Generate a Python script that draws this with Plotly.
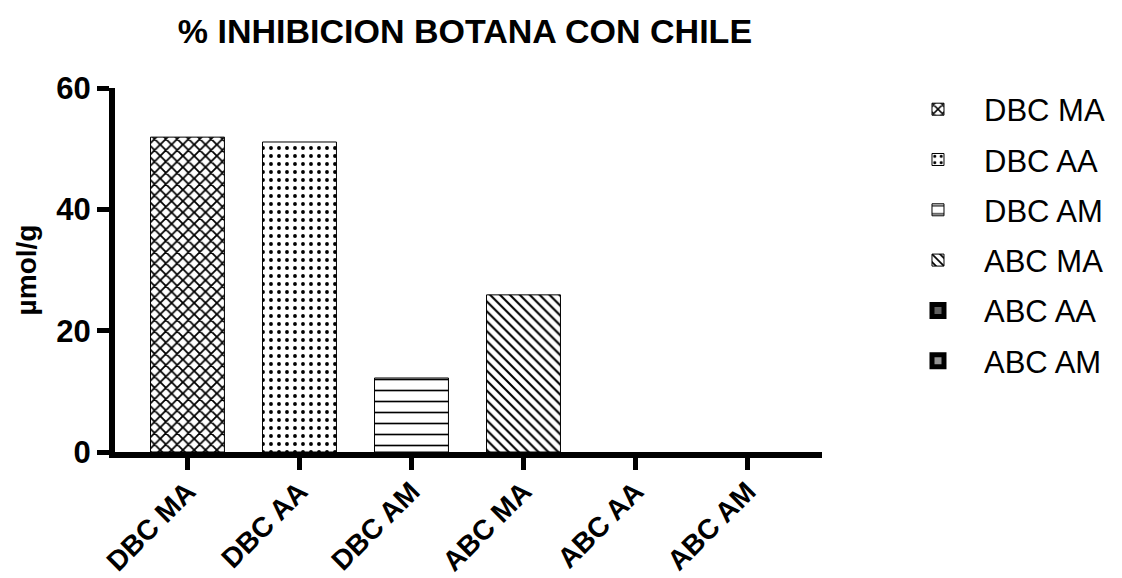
import plotly.graph_objects as go

categories = ["DBC MA", "DBC AA", "DBC AM", "ABC MA", "ABC AA", "ABC AM"]
values = [51.9, 51.1, 12.2, 25.9, 0.0, 0.0]
y_ticks = [0, 20, 40, 60]

patterns = ["x", ".", "-", "\\", "", ""]
pattern_sizes = [8, 8, 11, 7, 8, 8]
pattern_solidity = [0.4, 0.18, 0.15, 0.3, 0.2, 0.2]
fills = ["white", "white", "white", "white", "#606060", "#939393"]
line_widths = [1, 1, 1, 1, 5, 5]

FONT = "Liberation Sans, Arial, sans-serif"

fig = go.Figure()
for i, (cat, val) in enumerate(zip(categories, values)):
    fig.add_trace(go.Bar(
        x=[cat], y=[val if val > 0 else None], name=cat, legendgroup=cat,
        width=0.66,
        marker=dict(
            color=fills[i], opacity=1,
            line=dict(color="black", width=line_widths[i]),
            pattern=dict(shape=patterns[i], fgcolor="black", bgcolor=fills[i],
                         size=pattern_sizes[i], solidity=pattern_solidity[i],
                         fgopacity=1),
        ),
    ))

fig.update_layout(
    width=1122, height=578,
    margin=dict(l=115, r=300, t=88, b=126, autoexpand=False),
    paper_bgcolor="white", plot_bgcolor="white",
    barmode="overlay",
    title=dict(text="% INHIBICION BOTANA CON CHILE", x=0.4144, xanchor="center",
               y=0.946, yanchor="middle",
               font=dict(family=FONT, size=34, color="black", weight="bold")),
    font=dict(family=FONT, color="black"),
    legend=dict(x=1.099, y=1.015, xanchor="left", yanchor="top",
                font=dict(family=FONT, size=31, color="black"),
                tracegroupgap=7, itemwidth=82, traceorder="grouped",
                bgcolor="rgba(0,0,0,0)", maxheight=560),
    showlegend=True,
)
fig.update_xaxes(
    type="category", categoryorder="array", categoryarray=categories,
    range=[-0.647, 5.665], showline=True, linecolor="black", linewidth=6,
    ticks="outside", ticklen=12, tickwidth=5, tickcolor="black",
    tickangle=-45, tickfont=dict(family=FONT, size=28, color="black", weight="bold"),
    ticklabelstandoff=-6,
    showgrid=False, zeroline=False, automargin=False,
)
fig.update_yaxes(
    range=[0, 60], tickvals=y_ticks, showline=True, linecolor="black", linewidth=6,
    ticks="outside", ticklen=12, tickwidth=5, tickcolor="black",
    tickfont=dict(family=FONT, size=31, color="black", weight="bold"),
    showgrid=False, zeroline=False, automargin=False,
    title=dict(text="µmol/g", font=dict(family=FONT, size=28, color="black", weight="bold"),
               standoff=14),
)

fig.write_html("out.html", config={"displayModeBar": False},
               post_script="document.body.style.margin='0';")
